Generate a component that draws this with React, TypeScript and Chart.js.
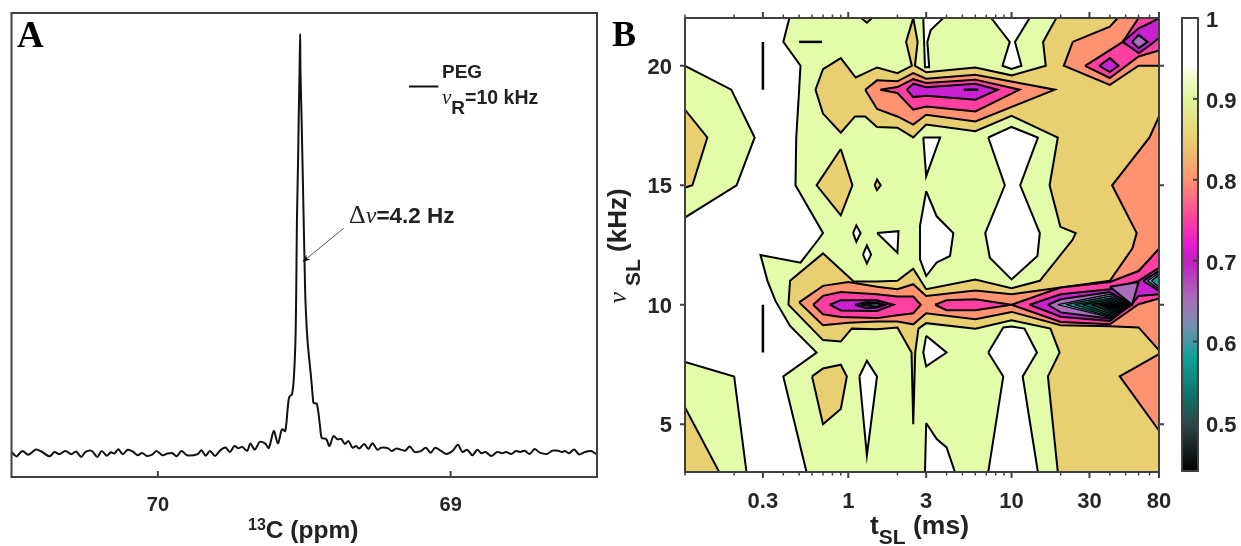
import React, { useEffect, useRef } from "react";
import { Chart, registerables } from "chart.js";

Chart.register(...registerables);

// ---------- Panel A: 13C spectrum (ppm, normalised intensity) ----------
const ppm = [70.5,70.489,70.481,70.463,70.443,70.417,70.398,70.37,70.353,70.336,70.316,70.296,70.279,70.262,70.247,70.226,70.207,70.192,70.175,70.16,70.149,70.135,70.12,70.103,70.086,70.069,70.054,70.037,70.018,70.005,69.984,69.967,69.95,69.936,69.919,69.901,69.865,69.851,69.837,69.822,69.805,69.789,69.769,69.754,69.738,69.726,69.712,69.695,69.684,69.669,69.652,69.633,69.621,69.604,69.59,69.576,69.565,69.556,69.551,69.542,69.536,69.53,69.527,69.525,69.521,69.519,69.516,69.514,69.513,69.509,69.502,69.499,69.496,69.489,69.476,69.471,69.468,69.457,69.446,69.44,69.425,69.414,69.4,69.386,69.374,69.361,69.349,69.335,69.323,69.312,69.295,69.281,69.267,69.25,69.238,69.215,69.201,69.185,69.155,69.14,69.123,69.102,69.085,69.068,69.053,69.034,69.014,68.994,68.975,68.96,68.943,68.926,68.909,68.895,68.881,68.861,68.841,68.824,68.811,68.793,68.777,68.762,68.747,68.73,68.713,68.697,68.671,68.652,68.632,68.62,68.609,68.595,68.578,68.561,68.541,68.52,68.503];
const intensity = [0,-0.008,-0.0104,0.0024,-0.007,0.0056,0.001,-0.0104,0,-0.0056,0.0024,-0.0056,0.001,-0.012,0,0.0024,-0.012,0.0024,-0.009,-0.001,-0.004,0.0064,-0.0056,0.005,0.001,-0.008,-0.0024,-0.0096,-0.0056,0.0024,-0.008,-0.004,-0.003,-0.0104,0.0024,-0.008,-0.0056,0.004,-0.009,0.0024,-0.0096,0.0024,0.0104,0,0.0144,0.0088,0.012,0.0024,0.02,0.0056,0.024,0.02,0.0096,0.05,0.02,0.054,0.05,0.108,0.132,0.138,0.172,0.268,0.411,0.555,0.699,0.794,0.914,1,0.914,0.794,0.555,0.455,0.364,0.268,0.173,0.133,0.117,0.115,0.061,0.033,0.031,0.014,0.038,0.03,0.031,0.019,0.026,0.01,0.014,0.008,0.019,0.007,0.021,0.005,0.01,0.009,0.002,0.008,0.003,0.013,0,0.002,0.01,-0.002,0.01,0.003,-0.005,0.002,0.017,0,0.005,-0.008,0.005,-0.003,0,-0.01,0,-0.003,0,-0.005,0.002,0,0.003,-0.005,0.007,-0.001,-0.005,0.003,0.003,0,0.002,-0.003,0.006,-0.006,0,0.002,-0.005];
const ppmTicks = [70, 69];
const legendPpm = [69.142, 69.042];
const legendLevel = [0.874, 0.874];
const arrowPpm = [69.365, 69.505];
const arrowLevel = [0.535, 0.455];

// ---------- Panel B: contour regions, as [tSL (ms), nuSL (kHz)] ----------
const tTicks = [0.3, 1, 3, 10, 30, 80];
const tMinor = [0.1, 0.2, 0.4, 0.5, 0.6, 0.7, 0.8, 0.9, 2, 4, 5, 6, 7, 8, 9, 20, 40, 50, 60, 70];
const nuTicks = [5, 10, 15, 20];

const greenTopLeft = [[0.1,20],[0.192,19],[0.267,17],[0.207,15],[0.1,13.65]];
const greenBottomLeft = [[0.1,7.61],[0.2,7],[0.238,3],[0.1,3]];
const greenMain = [[0.436,22],[0.4,21],[0.51,20],[0.5,19],[0.49,18],[0.48,17],[0.475,15],[0.7,13],[0.656,12.73],[0.51,11.76],[0.29,12.08],[0.32,11],[0.358,10.16],[0.44,9.11],[0.64,8],[0.4,7],[0.555,3],[30,3],[30,22]];

const tanTopLeft = [[0.1,18.16],[0.137,17],[0.111,15],[0.1,14.9]];
const tanBottomLeft = [[0.1,5.7],[0.162,3],[0.1,3]];
const tanMain = [[80,22],[18.8,22],[15.6,21],[16.2,20],[10,19.6],[6,19.93],[3,19.73],[2.56,20],[2.66,21],[2.5,22],[2.26,21],[2.45,20],[2,19.69],[1.5,19.93],[1.11,19.51],[0.9,20.32],[0.7,19.86],[0.63,19],[0.7,18],[0.9,17.2],[1.1,17.88],[1.27,17.88],[1.5,17.44],[2,17.41],[2.5,17],[3,17.54],[6,17.26],[10,17.91],[19.2,17],[17.1,15],[19.9,13.26],[24.7,13],[23.7,12.73],[14.9,11],[10,10.69],[6,11.06],[3,10.65],[2.5,11.51],[2,11],[1.5,10.97],[1.08,10.97],[0.7,12.15],[0.44,11],[0.43,10],[0.7,8.52],[0.9,8.46],[1.05,9],[1.5,8.97],[2,9.05],[2.44,8],[2.5,5],[2.57,8],[2.69,9],[3,9.23],[6,9],[10,9.35],[17.3,9],[19.7,8],[16.7,7],[19.2,3],[80,3]];
const tanDiamond = [[0.9,16.52],[0.64,15],[0.9,13.74],[1.06,15]];
const tanLower = [[0.6,7],[0.7,7.33],[0.9,7.49],[0.98,7],[0.9,5.64],[0.7,5]];
const tanDot = [[1.45,15],[1.5,15.24],[1.58,15],[1.5,14.8]];
const tanTopNick = [[1.2,22],[1.3,21.8],[1.4,22]];

const whiteA = [[2.88,22],[3.82,22],[3.2,21.5],[3.05,21],[3.13,19.94],[2.95,19.94]];
const whiteB = [[7.5,22],[12.9,22],[10.5,21],[11.5,20],[10,19.87],[8.8,20],[9.75,21]];
const whiteC = [[2.88,17],[3.65,17],[3,15.38]];
const whiteD = [[7.2,17],[10,17.44],[14.5,17],[11.3,15],[14.9,13],[14.4,12.04],[10,11.06],[7.36,11.97],[6.9,13],[9.1,15]];
const whiteE = [[3,14.75],[3.48,13.7],[4.4,13],[4.2,12.04],[3.48,11.77],[3,11.2],[2.75,11.9],[2.75,13.3]];
const whiteF = [[1.07,13],[1.12,13.32],[1.19,13],[1.12,12.64]];
const whiteG = [[1.5,13],[2.03,13.08],[2,12.18]];
const whiteH = [[1.23,12.1],[1.3,12.48],[1.38,12.1],[1.3,11.73]];
const whiteI = [[1.17,7],[1.3,7.65],[1.5,7],[1.3,3.7]];
const whiteJ = [[3,8.7],[4,8],[3,7.42],[2.88,8]];
const whiteK = [[7.2,8],[8.9,9.05],[10,9.09],[12,9],[14.3,8],[11.7,7],[14.5,3],[7.2,3],[8.9,7]];
const whiteL = [[3,5.05],[3.48,4.38],[4,4.03],[4.5,3],[2.95,3]];

const salmonUpper = [[1.27,19],[1.5,19.39],[2,19.35],[2.5,19.69],[3,19.46],[6,19.62],[18.4,19],[6,17.67],[3,17.95],[2.5,17.54],[2,17.88],[1.5,18.19]];
const salmonTopRight = [[23.7,21],[20.9,20],[40,19.2],[60,20],[80,20],[80,22],[44.7,22],[40,21.64]];
const salmonLower = [[0.5,10.1],[0.7,10.79],[1,10.95],[1.5,10.75],[2,10.65],[2.5,10.86],[3,10.37],[6,10.6],[10,10.44],[40,11],[55,12.36],[58.4,13],[41.3,15],[70,17],[80,17.88],[80,8.1],[60,9.05],[40,9.1],[20,9.14],[10,9.7],[6,9.39],[3,9.64],[2.5,9.18],[2,9.3],[1.5,9.3],[1,9.25],[0.7,9.14]];
const salmonBottomRight = [[80,7.93],[46,7],[80,4.73]];

const pinkUpper = [[1.57,19],[2,19.11],[2.5,19.44],[3,19.28],[6,19.42],[11.2,19],[6,18.09],[3,18.3],[2.5,18.16],[2,18.86]];
const pinkTopRight = [[28.2,20],[40,19.49],[60,20.39],[80,20.64],[80,22],[60,22],[48,21]];
const pinkLowerLeft = [[0.61,10],[0.7,10.37],[0.9,10.53],[1.5,10.44],[2,10.34],[2.5,10.34],[2.78,10],[2.5,9.64],[2,9.56],[1.5,9.44],[0.9,9.49],[0.7,9.6]];
const pinkLowerMid = [[3.4,10],[4,10.19],[6,10.23],[10,10],[6,9.77],[4,9.77]];
const pinkLowerRight = [[10,10],[20,10.72],[40,10.95],[60,11.41],[80,12.34],[80,10.26],[60,10.02],[40,9.18],[20,9.28]];

const purpleUpper = [[2.28,19],[2.5,19.25],[3,19.1],[6,19.25],[8.24,19],[6,18.58],[3,18.75],[2.5,18.69]];
const purpleTopRight = [[48,21],[60,21.57],[70,21.78],[80,22],[80,21.16],[70,20.85],[60,20.53]];
const purpleDiamond = [[34.5,20],[40,20.32],[45.2,20],[40,19.74]];
const purpleLowerLeft = [[0.77,10],[0.9,10.19],[1.5,10.19],[1.89,10],[1.5,9.74],[0.9,9.76]];
const purpleLowerRight = [[12.9,10],[20,10.44],[40,10.65],[60,11],[80,11.55],[80,10.44],[60,10.37],[55,10.05],[40,9.32],[20,9.5]];

const mauveDiamond = [[54.7,21],[60,21.29],[68.1,21],[60,20.74]];
const mauveLowerLeft = [[1.1,10],[1.3,10.1],[1.5,10.08],[1.68,10],[1.5,9.88],[1.3,9.85]];
const mauveLower = [[16.7,10],[20,10.23],[40,10.53],[54.7,10],[40,9.42],[20,9.68]];
const mauveWedge = [[40,10.75],[60,10.95],[54.7,10]];
const mauveFan = [[64,11],[80,11.41],[80,10.58]];
const slateCore = [[1.2,10],[1.5,10.06],[1.6,10],[1.5,9.92]];
const slateLower = [[19.2,10],[40,10.44],[53,10],[40,9.47]];
const slateFan = [[68,11],[80,11.32],[80,10.66]];
const tealLower = [[21.6,10],[40,10.36],[52,10],[40,9.52]];
const tealFan = [[72,11],[80,11.24],[80,10.74]];
const deepTealLower = [[24.4,10],[40,10.28],[51,10],[40,9.58]];
const darkTealLower = [[27.2,10],[40,10.2],[50,10],[40,9.64]];
const nearBlackLower = [[30.8,10],[40,10.12],[49,10],[40,9.72]];
const blackLower = [[34.5,10],[40,10.04],[47,9.98],[40,9.82]];

const GREEN = "#e3fcaa";
const TAN = "#e8cf72";
const SALMON = "#ff9270";
const PINK = "#ff40a0";
const PURPLE = "#c920d0";
const MAUVE = "#a96fbc";
const SLATE = "#6f8fb0";
const TEAL = "#129a94";
const DEEP = "#0f7a70";
const DARK = "#17504c";
const NEAR = "#122a2a";
const BLACK = "#000000";
const WHITE = "#ffffff";

const regions: [number[][], string, number?][] = [
  [greenTopLeft, GREEN],[greenBottomLeft, GREEN],[greenMain, GREEN],
  [tanTopLeft, TAN],[tanBottomLeft, TAN],[tanMain, TAN],[tanDiamond, TAN],[tanLower, TAN],[tanDot, TAN],[tanTopNick, TAN],
  [whiteA, WHITE],[whiteB, WHITE],[whiteC, WHITE],[whiteD, WHITE],[whiteE, WHITE],[whiteF, WHITE],[whiteG, WHITE],[whiteH, WHITE],[whiteI, WHITE],[whiteJ, WHITE],[whiteK, WHITE],[whiteL, WHITE],
  [salmonUpper, SALMON],[salmonTopRight, SALMON],[salmonLower, SALMON],[salmonBottomRight, SALMON],
  [pinkUpper, PINK],[pinkTopRight, PINK],[pinkLowerLeft, PINK],[pinkLowerMid, PINK],[pinkLowerRight, PINK],
  [purpleUpper, PURPLE],[purpleTopRight, PURPLE],[purpleDiamond, PURPLE],[purpleLowerLeft, PURPLE],[purpleLowerRight, PURPLE],
  [mauveDiamond, MAUVE],[mauveLowerLeft, MAUVE],[mauveLower, MAUVE],[mauveWedge, MAUVE],[mauveFan, MAUVE],
  [slateCore, SLATE],[slateLower, SLATE, 1.25],[slateFan, SLATE, 1.25],
  [tealLower, TEAL, 1.25],[tealFan, TEAL, 1.25],[deepTealLower, DEEP, 1.25],[darkTealLower, DARK, 1.25],[nearBlackLower, NEAR, 1.25],[blackLower, BLACK, 1.25],
];
const strokes = [
  [[0.3,21],[0.3,19]],
  [[0.3,10],[0.3,8]],
  [[0.5,21],[0.69,21]],
  [[5.1,19],[6.25,19]],
];

// ---------- Colour bar ----------
const barLevels = [1, 0.943, 0.93, 0.9, 0.85, 0.8, 0.75, 0.72, 0.7, 0.65, 0.62, 0.58, 0.53, 0.5, 0.44];
const barColors = ["#ffffff","#ffffff","#f3fcd0","#dff49a","#e8cf72","#ff9270","#ff40a0","#e81ad0","#c020c0","#a870b8","#7890b0","#10a098","#0f7068","#2e4a48","#000000"];
const barTicks = [0.5, 0.6, 0.7, 0.8, 0.9, 1];

const AXIS = "#404040";
const LABEL = "#262626";
const SANS = "'Liberation Sans', Arial, sans-serif";
const SERIF = "'Liberation Serif', 'Times New Roman', serif";

function framePlugin(cfg: any) {
  return {
    id: "frame",
    afterDraw(chart: any) {
      const { ctx, chartArea: a, scales } = chart;
      ctx.save();
      ctx.strokeStyle = AXIS;
      ctx.lineWidth = 2;
      ctx.strokeRect(a.left, a.top, a.right - a.left, a.bottom - a.top);
      const vline = (v: number, len: number) => {
        const x = scales.x.getPixelForValue(v);
        ctx.beginPath();
        if (cfg.inside) {
          ctx.moveTo(x, a.bottom); ctx.lineTo(x, a.bottom - len);
        } else {
          ctx.moveTo(x, a.bottom); ctx.lineTo(x, a.bottom + len);
          ctx.moveTo(x, a.top); ctx.lineTo(x, a.top - len);
        }
        ctx.stroke();
      };
      const hline = (v: number, len: number) => {
        const y = scales.y.getPixelForValue(v);
        ctx.beginPath();
        if (cfg.insideRight) {
          ctx.moveTo(a.right, y); ctx.lineTo(a.right - len, y);
        } else {
          ctx.moveTo(a.left, y); ctx.lineTo(a.left - len, y);
          ctx.moveTo(a.right, y); ctx.lineTo(a.right + len, y);
        }
        ctx.stroke();
      };
      (cfg.xMajor || []).forEach((v: number) => vline(v, 6));
      ctx.lineWidth = 1.5;
      (cfg.xMinor || []).forEach((v: number) => vline(v, 3.5));
      ctx.lineWidth = 2;
      (cfg.yMajor || []).forEach((v: number) => hline(v, 5));
      if (cfg.arrow) {
        const x0 = scales.x.getPixelForValue(arrowPpm[0]);
        const y0 = scales.y.getPixelForValue(arrowLevel[0]);
        const x1 = scales.x.getPixelForValue(arrowPpm[1]);
        const y1 = scales.y.getPixelForValue(arrowLevel[1]);
        ctx.strokeStyle = "#555555";
        ctx.lineWidth = 1;
        ctx.beginPath(); ctx.moveTo(x0, y0); ctx.lineTo(x1, y1); ctx.stroke();
        const ang = Math.atan2(y1 - y0, x1 - x0);
        ctx.fillStyle = "#000000";
        ctx.beginPath();
        ctx.moveTo(x1, y1);
        ctx.lineTo(x1 - 8 * Math.cos(ang - 0.4), y1 - 8 * Math.sin(ang - 0.4));
        ctx.lineTo(x1 - 5 * Math.cos(ang), y1 - 5 * Math.sin(ang));
        ctx.lineTo(x1 - 8 * Math.cos(ang + 0.4), y1 - 8 * Math.sin(ang + 0.4));
        ctx.closePath();
        ctx.fill();
      }
      ctx.restore();
    },
  };
}

const fixedX = (h: number) => (s: any) => { s.height = h; s.paddingLeft = 0; s.paddingRight = 0; };
const fixedY = (w: number) => (s: any) => { s.width = w; s.paddingTop = 0; s.paddingBottom = 0; };
const setTicks = (vals: number[]) => (s: any) => { s.ticks = vals.map((value) => ({ value })); };

function useChart(make: (c: HTMLCanvasElement) => Chart) {
  const ref = useRef<HTMLCanvasElement | null>(null);
  useEffect(() => {
    const ch = make(ref.current as HTMLCanvasElement);
    return () => ch.destroy();
  }, []);
  return ref;
}

function makeSpectrum(c: HTMLCanvasElement) {
  return new Chart(c, {
    type: "scatter",
    data: {
      datasets: [
        {
          data: ppm.map((x, i) => ({ x, y: intensity[i] })),
          showLine: true, borderColor: "#111111", borderWidth: 2, pointRadius: 0, tension: 0.3, clip: 0,
        },
        {
          data: legendPpm.map((x, i) => ({ x, y: legendLevel[i] })),
          showLine: true, borderColor: "#111111", borderWidth: 2, pointRadius: 0, clip: 0,
        },
      ],
    },
    options: {
      animation: false, responsive: false,
      layout: { padding: { left: 11.5, top: 13, right: 3, bottom: 0 } },
      plugins: { legend: { display: false }, tooltip: { enabled: false } },
      scales: {
        x: {
          type: "linear", reverse: true, min: 68.5, max: 70.5,
          grid: { display: false, drawTicks: false }, border: { display: false },
          afterBuildTicks: setTicks(ppmTicks), afterFit: fixedX(69),
          ticks: { color: LABEL, padding: 16, maxRotation: 0, autoSkip: false, font: { family: SANS, weight: "bold", size: 20 }, callback: (v: any) => String(v) },
        },
        y: { type: "linear", display: false, min: -0.06, max: 1.05 },
      },
    } as any,
    plugins: [framePlugin({ inside: true, xMajor: ppmTicks, arrow: true })],
  });
}

function makeContour(c: HTMLCanvasElement) {
  const n = regions.length + strokes.length;
  const fills = regions.map(([pts, color, width], i) => ({
    data: [...pts, pts[0]].map(([x, y]) => ({ x, y })),
    showLine: true, fill: "shape", backgroundColor: color, borderColor: "#000000", borderWidth: width ?? 2,
    borderJoinStyle: "miter", pointRadius: 0, tension: 0, clip: 0, order: n - i,
  }));
  const lines = strokes.map((pts, i) => ({
    data: pts.map(([x, y]) => ({ x, y })),
    showLine: true, borderColor: "#000000", borderWidth: 2.5, pointRadius: 0, tension: 0, clip: 0, order: strokes.length - i,
  }));
  return new Chart(c, {
    type: "scatter",
    data: { datasets: [...fills, ...lines] as any },
    options: {
      animation: false, responsive: false,
      layout: { padding: { left: 0, top: 18, right: 16, bottom: 0 } },
      plugins: { legend: { display: false }, tooltip: { enabled: false } },
      scales: {
        x: {
          type: "logarithmic", min: 0.1, max: 80,
          grid: { display: false, drawTicks: false }, border: { display: false },
          afterBuildTicks: setTicks(tTicks), afterFit: fixedX(74),
          ticks: { color: LABEL, padding: 17, maxRotation: 0, autoSkip: false, font: { family: SANS, weight: "bold", size: 22 }, callback: (v: any) => String(v) },
        },
        y: {
          type: "linear", min: 3, max: 22,
          grid: { display: false, drawTicks: false }, border: { display: false },
          afterBuildTicks: setTicks(nuTicks), afterFit: fixedY(85),
          ticks: { color: LABEL, padding: 13, labelOffset: 2, font: { family: SANS, weight: "bold", size: 22 }, callback: (v: any) => String(v) },
        },
      },
    } as any,
    plugins: [framePlugin({ xMajor: tTicks, xMinor: tMinor, yMajor: nuTicks })],
  });
}

function makeColorbar(c: HTMLCanvasElement) {
  return new Chart(c, {
    type: "bar",
    data: {
      labels: ["ratio"],
      datasets: [{
        data: [[0.44, 1]],
        barPercentage: 1, categoryPercentage: 1, borderWidth: 0,
        backgroundColor: (ctx: any) => {
          const { chart } = ctx;
          const y = chart.scales.y;
          if (!y || !chart.chartArea) return "#ffffff";
          const g = chart.ctx.createLinearGradient(0, y.getPixelForValue(1), 0, y.getPixelForValue(0.44));
          barLevels.forEach((lv, i) => g.addColorStop((1 - lv) / (1 - 0.44), barColors[i]));
          return g;
        },
      }],
    },
    options: {
      animation: false, responsive: false,
      layout: { padding: { left: 12, top: 18, right: 0, bottom: 75 } },
      plugins: { legend: { display: false }, tooltip: { enabled: false } },
      scales: {
        x: { display: false },
        y: {
          type: "linear", position: "right", min: 0.44, max: 1,
          grid: { display: false, drawTicks: false }, border: { display: false },
          afterBuildTicks: setTicks(barTicks), afterFit: fixedY(43),
          ticks: { color: LABEL, padding: 8, labelOffset: 3, font: { family: SANS, weight: "bold", size: 22 }, callback: (v: any) => String(v) },
        },
      },
    } as any,
    plugins: [framePlugin({ insideRight: true, yMajor: barTicks })],
  });
}

function Txt({ x, y, size = 18, rotate, children, color = "#222222" }: any) {
  const style: any = {
    position: "absolute", left: x, top: y, whiteSpace: "nowrap", fontFamily: SANS, fontWeight: "bold",
    fontSize: size, color, lineHeight: 1, transform: rotate ? `translate(-50%,-50%) rotate(${rotate}deg)` : "translateY(-50%)",
  };
  return <div style={style}>{children}</div>;
}
const Nu = ({ size, gap = 0 }: any) => (
  <span style={{ fontFamily: SERIF, fontStyle: "italic", fontWeight: "normal", fontSize: size, marginRight: gap }}>ν</span>
);
const Lower = ({ size, drop, children }: any) => (
  <span style={{ fontSize: size, position: "relative", top: drop }}>{children}</span>
);

export default function App() {
  const a = useChart(makeSpectrum);
  const b = useChart(makeContour);
  const cb = useChart(makeColorbar);
  return (
    <div style={{ position: "fixed", left: 0, top: 0, width: 1241, height: 546, background: "#fff", overflow: "hidden" }}>
      <canvas ref={a} width={600} height={546} style={{ position: "absolute", left: 0, top: 0 }} />
      <canvas ref={b} width={575} height={546} style={{ position: "absolute", left: 600, top: 0 }} />
      <canvas ref={cb} width={71} height={546} style={{ position: "absolute", left: 1170, top: 0 }} />

      <div style={{ position: "absolute", left: 17, top: 16, fontFamily: SERIF, fontWeight: "bold", fontSize: 37, lineHeight: 1, color: "#000" }}>A</div>
      <div style={{ position: "absolute", left: 612, top: 16, fontFamily: SERIF, fontWeight: "bold", fontSize: 36, lineHeight: 1, color: "#000" }}>B</div>

      <Txt x={442} y={71} size={19}>PEG</Txt>
      <Txt x={442} y={97} size={19.5}><Nu size={21} /><Lower size={19} drop={10}>R</Lower>=10 kHz</Txt>
      <Txt x={349} y={215} size={22.5}><span style={{ fontFamily: SERIF, fontWeight: "normal", fontSize: 26 }}>Δ</span><Nu size={24} />=4.2 Hz</Txt>

      <Txt x={248} y={530} size={24.5}><Lower size={16} drop={-8}>13</Lower>C (ppm)</Txt>
      <Txt x={870} y={525} size={26.5}>t<Lower size={21} drop={10}>SL</Lower>&nbsp;(ms)</Txt>
      <Txt x={617} y={246} size={26} rotate={-90}><Nu size={26} gap={6} /><Lower size={21} drop={14}>SL</Lower>&nbsp;(kHz)</Txt>
    </div>
  );
}
